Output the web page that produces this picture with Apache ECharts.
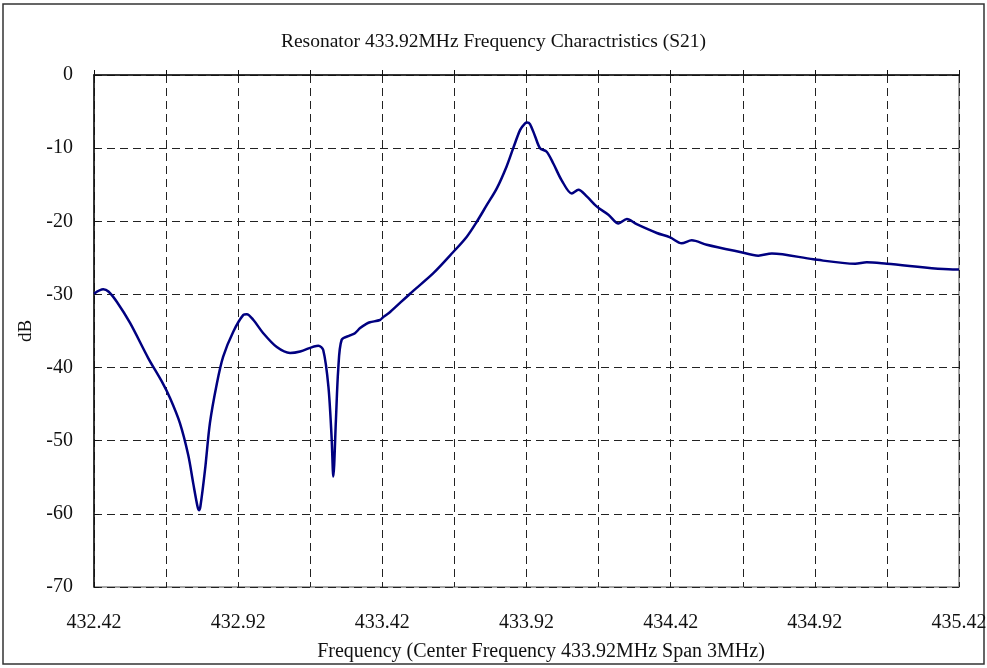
<!DOCTYPE html>
<html lang="en">
<head>
    <meta charset="UTF-8">
    <title>Resonator 433.92MHz S21</title>
    <script src="https://cdn.jsdelivr.net/npm/echarts@6/dist/echarts.min.js"></script>
</head>
<body style="margin:0;background:#ffffff;">
    <div id="main" style="width:987px;height:668px;"></div>
    <script type="text/javascript">
        // start frequency of the sweep (MHz), axis runs 3 MHz from here
        var startFreq = 432.42;
        var spanMHz = 3;

        // frequency points (MHz)
        var freq = [
            432.420, 432.452, 432.470, 432.499, 432.545, 432.608, 432.655, 432.684,
            432.718, 432.747, 432.764, 432.779, 432.784, 432.789, 432.805, 432.822,
            432.846, 432.868, 432.903, 432.938, 432.950, 432.973, 433.007, 433.054,
            433.100, 433.135, 433.198, 433.215, 433.233, 433.244, 433.250, 433.259,
            433.267, 433.279, 433.308, 433.325, 433.343, 433.366, 433.377, 433.412,
            433.423, 433.447, 433.516, 433.597, 433.666, 433.713, 433.747, 433.782,
            433.817, 433.851, 433.874, 433.898, 433.915, 433.922, 433.932, 433.950,
            433.967, 433.990, 434.013, 434.042, 434.077, 434.100, 434.129, 434.164,
            434.204, 434.239, 434.268, 434.302, 434.372, 434.418, 434.458, 434.493,
            434.545, 434.661, 434.724, 434.771, 434.915, 435.060, 435.100, 435.170,
            435.412, 435.420
        ];
        // S21 in dB at those points
        var s21 = [
            -29.9, -29.3, -29.6, -31.0, -33.9, -38.7, -41.9, -44.2,
            -47.6, -52.0, -55.8, -59.0, -59.5, -59.0, -54.0, -47.6,
            -42.2, -38.5, -35.1, -32.8, -32.7, -33.5, -35.3, -37.2,
            -38.0, -37.8, -37.0, -37.6, -42.6, -49.5, -54.9, -47.2,
            -40.3, -36.2, -35.6, -35.3, -34.6, -34.0, -33.8, -33.5,
            -33.1, -32.4, -29.9, -27.1, -24.2, -22.1, -20.1, -17.8,
            -15.5, -12.5, -10.0, -7.5, -6.6, -6.5, -6.7, -8.4,
            -10.0, -10.5, -12.1, -14.4, -16.2, -15.7, -16.6, -18.0,
            -19.1, -20.3, -19.7, -20.4, -21.6, -22.2, -23.0, -22.6,
            -23.2, -24.2, -24.7, -24.4, -25.2, -25.8, -25.6, -25.8,
            -26.6, -26.6
        ];
        var dbMin = -70, dbMax = 0, dbStep = 10;

        var myChart = echarts.init(document.getElementById('main'));

        // x is plotted as offset from startFreq so the 0.25 MHz ticks start at min
        var points = [];
        for (var i = 0; i < freq.length; i++) {
            points.push([freq[i] - startFreq, s21[i]]);
        }

        var serif = '"Liberation Serif", "DejaVu Serif", serif';
        var gridDash = {color: '#222', width: 1, type: [8, 5]};

        myChart.setOption({
            animation: false,
            title: {
                text: 'Resonator 433.92MHz Frequency Charactristics (S21)',
                left: 'center',
                top: 27,
                textStyle: {fontFamily: serif, fontSize: 19.5, fontWeight: 'normal', color: '#111'}
            },
            graphic: [{
                type: 'rect',
                shape: {x: 3, y: 4, width: 981, height: 660},
                style: {fill: 'none', stroke: '#333', lineWidth: 1.5},
                silent: true
            }],
            grid: {
                left: 94, right: 28, top: 75, bottom: 81,
                containLabel: false,
                outerBoundsMode: 'none',
                show: true, borderColor: '#888', borderWidth: 1.5
            },
            xAxis: {
                type: 'value',
                min: 0,
                max: spanMHz,
                interval: 0.25,
                name: 'Frequency (Center Frequency 433.92MHz Span 3MHz)',
                nameLocation: 'middle',
                nameGap: 55,
                nameTextStyle: {fontFamily: serif, fontSize: 20, color: '#111', padding: [0, 0, 0, 29]},
                axisLine: {lineStyle: {color: '#111', width: 1.5}},
                axisTick: {inside: true, length: 5, lineStyle: {color: '#111'}},
                axisLabel: {
                    margin: 26,
                    fontFamily: serif, fontSize: 20, color: '#111',
                    formatter: function (v) {
                        var k = Math.round(v / 0.25);
                        if (k % 2 !== 0) return '';
                        return (startFreq + v).toFixed(2);
                    }
                },
                splitLine: {show: true, lineStyle: gridDash}
            },
            yAxis: {
                type: 'value',
                min: dbMin,
                max: dbMax,
                interval: dbStep,
                name: 'dB',
                nameLocation: 'middle',
                nameGap: 58,
                nameRotate: 90,
                nameTextStyle: {fontFamily: serif, fontSize: 19, color: '#111'},
                axisLine: {show: true, lineStyle: {color: '#111', width: 1.5}},
                axisTick: {show: true, inside: true, length: 5, lineStyle: {color: '#111'}},
                axisLabel: {margin: 21, fontFamily: serif, fontSize: 20, color: '#111'},
                splitLine: {show: true, lineStyle: gridDash}
            },
            series: [{
                name: 'S21',
                type: 'line',
                data: points,
                showSymbol: false,
                smooth: 0.3,
                lineStyle: {color: '#000080', width: 2.5},
                z: 5
            }]
        });
    </script>
</body>
</html>
